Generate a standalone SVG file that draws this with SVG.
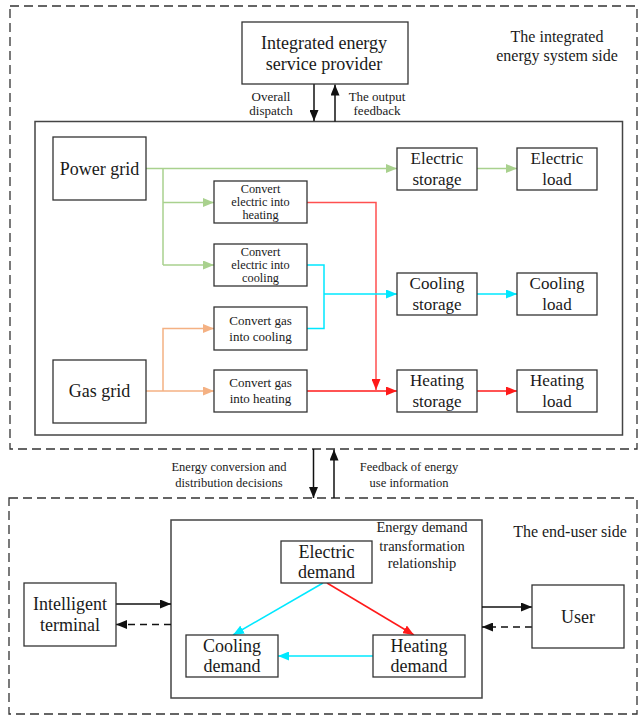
<svg xmlns="http://www.w3.org/2000/svg" width="638" height="718" viewBox="0 0 638 718">
<style>
text{font-family:"Liberation Serif","Times New Roman",serif;fill:#1a1a1a;text-anchor:middle;dominant-baseline:central}
.box{fill:#fff;stroke:#333;stroke-width:1.3}
.frame{fill:none;stroke:#444;stroke-width:1.5}
.dash{fill:none;stroke:#333;stroke-width:1.3;stroke-dasharray:9 5}
.l{fill:none;stroke-width:1.5}
.g{stroke:#a9d18e}.o{stroke:#f4b183}.r{stroke:#ff5050}.r2{stroke:#ff1a1a}.c{stroke:#00e8ff}.k{stroke:#111}
.f18{font-size:18px}.f17{font-size:17px}.f16{font-size:16px}.f13{font-size:13px}.f12{font-size:12.3px}.f125{font-size:12.5px}.f145{font-size:14.5px}
</style>
<defs>
<marker id="ag" markerUnits="userSpaceOnUse" markerWidth="11" markerHeight="9" refX="11" refY="4.5" orient="auto"><path d="M0,0 L11,4.5 L0,9 z" fill="#a9d18e"/></marker>
<marker id="ao" markerUnits="userSpaceOnUse" markerWidth="11" markerHeight="9" refX="11" refY="4.5" orient="auto"><path d="M0,0 L11,4.5 L0,9 z" fill="#f4b183"/></marker>
<marker id="ar" markerUnits="userSpaceOnUse" markerWidth="11" markerHeight="9" refX="11" refY="4.5" orient="auto"><path d="M0,0 L11,4.5 L0,9 z" fill="#ff1a1a"/></marker>
<marker id="ac" markerUnits="userSpaceOnUse" markerWidth="11" markerHeight="9" refX="11" refY="4.5" orient="auto"><path d="M0,0 L11,4.5 L0,9 z" fill="#00e8ff"/></marker>
<marker id="ak" markerUnits="userSpaceOnUse" markerWidth="11" markerHeight="9" refX="11" refY="4.5" orient="auto"><path d="M0,0 L11,4.5 L0,9 z" fill="#111"/></marker>
</defs>

<g id="frames">
<rect class="dash" x="10" y="6" width="627" height="443"/>
<rect class="dash" x="9" y="498" width="628" height="216"/>
<rect class="frame" x="35" y="121.5" width="587.5" height="313.5"/>
<rect class="frame" x="171" y="520" width="311" height="178"/>
</g>

<g id="labels">
<text class="f16" x="557" y="36">The integrated</text>
<text class="f16" x="557" y="55">energy system side</text>
<text class="f13" x="271" y="96">Overall</text>
<text class="f13" x="271" y="110">dispatch</text>
<text class="f13" x="377" y="96">The output</text>
<text class="f13" x="377" y="110">feedback</text>
<text class="f125" x="229" y="466.5">Energy conversion and</text>
<text class="f125" x="229" y="482.5">distribution decisions</text>
<text class="f125" x="409" y="466.5">Feedback of energy</text>
<text class="f125" x="409" y="482.5">use information</text>
<text class="f145" x="422" y="527">Energy demand</text>
<text class="f145" x="422" y="545.5">transformation</text>
<text class="f145" x="422" y="563">relationship</text>
<text class="f16" x="570" y="531">The end-user side</text>
</g>

<g id="connectors">
<line class="l k" x1="314" y1="84" x2="314" y2="121" marker-end="url(#ak)"/>
<line class="l k" x1="335" y1="121.5" x2="335" y2="84.5" marker-end="url(#ak)"/>
<line class="l g" x1="146" y1="168.5" x2="397" y2="168.5" marker-end="url(#ag)"/>
<line class="l g" x1="477" y1="168.5" x2="517" y2="168.5" marker-end="url(#ag)"/>
<polyline class="l g" points="163,168.5 163,265"/>
<line class="l g" x1="163" y1="202.5" x2="214" y2="202.5" marker-end="url(#ag)"/>
<line class="l g" x1="163" y1="265" x2="214" y2="265" marker-end="url(#ag)"/>
<line class="l o" x1="146" y1="391" x2="214" y2="391" marker-end="url(#ao)"/>
<polyline class="l o" points="163,391 163,328.5 214,328.5" marker-end="url(#ao)"/>
<polyline class="l r" points="307,202.5 376,202.5 376,390" marker-end="url(#ar)"/>
<line class="l r2" x1="307" y1="391" x2="397" y2="391" marker-end="url(#ar)"/>
<line class="l r2" x1="477" y1="391" x2="517" y2="391" marker-end="url(#ar)"/>
<polyline class="l c" points="307,265 324,265 324,328.5 307,328.5"/>
<line class="l c" x1="324" y1="294" x2="397" y2="294" marker-end="url(#ac)"/>
<line class="l c" x1="477" y1="294" x2="517" y2="294" marker-end="url(#ac)"/>
<line class="l k" x1="313.5" y1="449" x2="313.5" y2="498" marker-end="url(#ak)"/>
<line class="l k" x1="334" y1="498" x2="334" y2="449.5" marker-end="url(#ak)"/>
<line class="l k" x1="116" y1="604" x2="171" y2="604" marker-end="url(#ak)"/>
<line class="l k" x1="171" y1="624.5" x2="116" y2="624.5" stroke-dasharray="7 5" marker-end="url(#ak)"/>
<line class="l k" x1="482" y1="607" x2="532" y2="607" marker-end="url(#ak)"/>
<line class="l k" x1="532" y1="627" x2="482" y2="627" stroke-dasharray="7 5" marker-end="url(#ak)"/>
<line class="l c" x1="323" y1="583" x2="233" y2="635" marker-end="url(#ac)"/>
<line class="l c" x1="373" y1="656" x2="278" y2="656" marker-end="url(#ac)"/>
<line class="l r2" x1="327" y1="583" x2="414" y2="635" marker-end="url(#ar)"/>
</g>

<g id="provider"><rect class="box" x="242" y="22" width="166" height="62"/>
<text class="f18" x="324" y="43">Integrated energy</text><text class="f18" x="324" y="64">service provider</text></g>

<g id="power-grid"><rect class="box" x="53" y="137" width="93" height="63"/>
<text class="f18" x="99.5" y="168.5">Power grid</text></g>
<g id="gas-grid"><rect class="box" x="53" y="360" width="93" height="63"/>
<text class="f18" x="99.5" y="391">Gas grid</text></g>

<g id="e2h"><rect class="box" x="214" y="181" width="93" height="42"/>
<text class="f12" x="260.5" y="188.8">Convert</text><text class="f12" x="260.5" y="202">electric into</text><text class="f12" x="260.5" y="215.2">heating</text></g>
<g id="e2c"><rect class="box" x="214" y="244" width="93" height="42"/>
<text class="f12" x="260.5" y="251.8">Convert</text><text class="f12" x="260.5" y="265">electric into</text><text class="f12" x="260.5" y="278.2">cooling</text></g>
<g id="g2c"><rect class="box" x="214" y="307" width="93" height="43"/>
<text class="f13" x="260.5" y="320">Convert gas</text><text class="f13" x="260.5" y="336">into cooling</text></g>
<g id="g2h"><rect class="box" x="214" y="370" width="93" height="42"/>
<text class="f13" x="260.5" y="382.5">Convert gas</text><text class="f13" x="260.5" y="398.5">into heating</text></g>

<g id="elec-storage"><rect class="box" x="397" y="148" width="80" height="42"/>
<text class="f17" x="437" y="158.5">Electric</text><text class="f17" x="437" y="179">storage</text></g>
<g id="elec-load"><rect class="box" x="517" y="148" width="80" height="42"/>
<text class="f17" x="557" y="158.5">Electric</text><text class="f17" x="557" y="179">load</text></g>
<g id="cool-storage"><rect class="box" x="397" y="273" width="80" height="42"/>
<text class="f17" x="437" y="283.5">Cooling</text><text class="f17" x="437" y="304">storage</text></g>
<g id="cool-load"><rect class="box" x="517" y="273" width="80" height="42"/>
<text class="f17" x="557" y="283.5">Cooling</text><text class="f17" x="557" y="304">load</text></g>
<g id="heat-storage"><rect class="box" x="397" y="370" width="80" height="42"/>
<text class="f17" x="437" y="380.5">Heating</text><text class="f17" x="437" y="401">storage</text></g>
<g id="heat-load"><rect class="box" x="517" y="370" width="80" height="42"/>
<text class="f17" x="557" y="380.5">Heating</text><text class="f17" x="557" y="401">load</text></g>

<g id="terminal"><rect class="box" x="24" y="583" width="92" height="63"/>
<text class="f18" x="70" y="604">Intelligent</text><text class="f18" x="70" y="624.5">terminal</text></g>
<g id="elec-demand"><rect class="box" x="281" y="541" width="91" height="42"/>
<text class="f18" x="326.5" y="551.5">Electric</text><text class="f18" x="326.5" y="571.5">demand</text></g>
<g id="cool-demand"><rect class="box" x="186" y="635" width="92" height="42"/>
<text class="f18" x="232" y="646">Cooling</text><text class="f18" x="232" y="666">demand</text></g>
<g id="heat-demand"><rect class="box" x="373" y="635" width="92" height="42"/>
<text class="f18" x="419" y="646">Heating</text><text class="f18" x="419" y="666">demand</text></g>
<g id="user"><rect class="box" x="532" y="585" width="92" height="63"/>
<text class="f18" x="578" y="616.5">User</text></g>
</svg>
